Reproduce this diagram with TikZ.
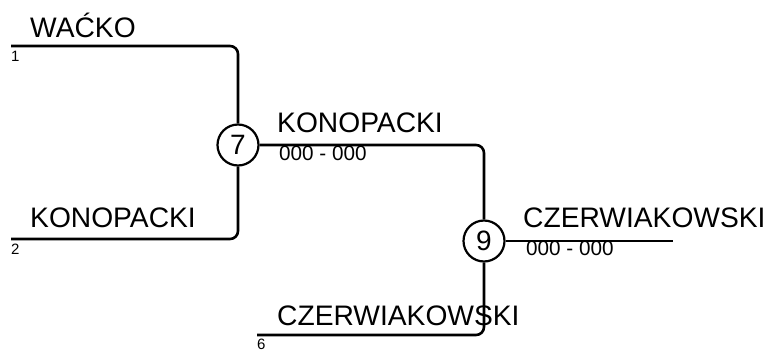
\documentclass[tikz,border=0pt]{standalone}
\usepackage{fontspec}
\setmainfont{Liberation Sans}
\begin{document}
\begin{tikzpicture}[x=1pt,y=-1pt,
  conn/.style={line width=2.6pt, rounded corners=8pt},
  match/.style={circle, draw, line width=2.2pt, minimum size=41pt, inner sep=0pt, font=\fontsize{28}{30}\selectfont},
  pname/.style={anchor=base west, inner sep=0pt, font=\fontsize{28.2}{30}\selectfont},
  seed/.style={anchor=north west, inner sep=0pt, font=\fontsize{15}{16}\selectfont},
  score/.style={anchor=base west, inner sep=0pt, font=\fontsize{20.7}{22}\selectfont}]
\useasboundingbox (0,0) rectangle (768,351);
\node[match] (c7) at (238,145) {7};
\node[match] (c9) at (484,241) {9};
\coordinate (s1) at (11,46);
\coordinate (s2) at (11,239);
\coordinate (s6) at (257,335);
\coordinate (e9) at (673,241);
\draw[conn] (s1) -| (c7);
\draw[conn] (s2) -| (c7);
\draw[conn] (c7) -| (c9);
\draw[conn] (s6) -| (c9);
\draw[conn] (c9) -- (e9);
\node[pname] (n1) at (30,37) {WAĆKO};
\node[pname] (n2) at (30,227) {KONOPACKI};
\node[pname] (n7) at (277,132) {KONOPACKI};
\node[pname] (n9) at (523,227) {CZERWIAKOWSKI};
\node[pname] (n6) at (277,325) {CZERWIAKOWSKI};
\node[seed] (d1) at (11,51) {1};
\node[seed] (d2) at (11,244) {2};
\node[seed] (d6) at (257,339) {6};
\node[score] (sc7) at (279,160) {000 - 000};
\node[score] (sc9) at (526,255) {000 - 000};
\end{tikzpicture}
\end{document}
